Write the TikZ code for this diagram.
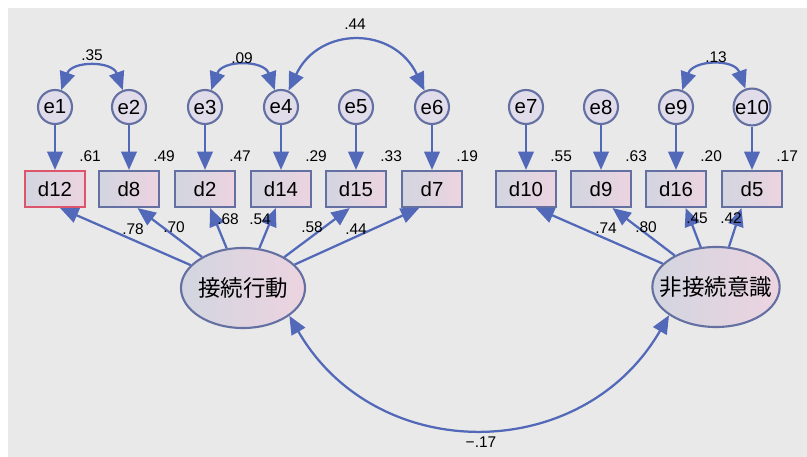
\documentclass[tikz,border=0pt]{standalone}
\usepackage{fontspec}
\setmainfont{Liberation Sans}
\newfontfamily\jafont{Noto Sans CJK JP}
\usepackage{tikz}
\usetikzlibrary{arrows.meta}
\usetikzlibrary{shapes.geometric}
\usetikzlibrary{calc}

\definecolor{paper}{RGB}{233,233,233}
\definecolor{lineblue}{RGB}{82,104,184}
\definecolor{nodeedge}{RGB}{100,112,162}
\definecolor{boxred}{RGB}{222,84,106}
\definecolor{circfill}{RGB}{224,220,234}
\definecolor{shadeleft}{RGB}{210,213,224}
\definecolor{shaderight}{RGB}{236,212,224}

\tikzset{
	errnode/.style={circle, draw=nodeedge, line width=1.5pt, fill=circfill,
		minimum size=0.85cm, inner sep=0pt, font=\fontsize{14.5}{16}\selectfont},
	obsbox/.style={rectangle, draw=nodeedge, line width=1.5pt,
		left color=shadeleft, right color=shaderight,
		minimum width=1.5cm, minimum height=0.9cm, inner sep=0pt,
		font=\fontsize{14.5}{16}\selectfont},
	latent/.style={ellipse, draw=nodeedge, line width=1.5pt,
		left color=shadeleft, right color=shaderight,
		minimum width=3.1cm, minimum height=2cm, inner xsep=-8pt, inner ysep=0pt,
		font=\jafont\fontsize{16}{18}\selectfont},
	regarrow/.style={lineblue, line width=1.6pt, -{Triangle[length=13pt,width=11pt]}},
	covarrow/.style={lineblue, line width=1.6pt,
		{Triangle[length=13pt,width=11pt]}-{Triangle[length=13pt,width=11pt]}},
	coef/.style={font=\fontsize{11}{13}\selectfont, inner sep=0pt}
}

\begin{document}
\begin{tikzpicture}[x=0.025cm, y=0.025cm]

\newcommand{\erow}{-107}
\newcommand{\drow}{-189}

	\useasboundingbox (0,0) rectangle (807,-457);
	\fill[paper] (8,-8) rectangle (807,-457);

	% error terms
	\node[errnode] (e1) at (55,\erow) {e1};
	\node[errnode] (e2) at (129,\erow) {e2};
	\node[errnode] (e3) at (205,\erow) {e3};
	\node[errnode] (e4) at (281,\erow) {e4};
	\node[errnode] (e5) at (356,\erow) {e5};
	\node[errnode] (e6) at (432,\erow) {e6};
	\node[errnode] (e7) at (526,\erow) {e7};
	\node[errnode] (e8) at (601,\erow) {e8};
	\node[errnode] (e9) at (676,\erow) {e9};
	\node[errnode] (e10) at (752,\erow) {e10};

	% observed items
	\node[obsbox, draw=boxred] (d12) at (55,\drow) {d12};
	\node[obsbox] (d8) at (129,\drow) {d8};
	\node[obsbox] (d2) at (205,\drow) {d2};
	\node[obsbox] (d14) at (281,\drow) {d14};
	\node[obsbox] (d15) at (356,\drow) {d15};
	\node[obsbox] (d7) at (432,\drow) {d7};
	\node[obsbox] (d10) at (526,\drow) {d10};
	\node[obsbox] (d9) at (601,\drow) {d9};
	\node[obsbox] (d16) at (676,\drow) {d16};
	\node[obsbox] (d5) at (752,\drow) {d5};

	% factors
	\node[latent] (act) at (243,-288) {接続行動};
	\node[latent] (cog) at (716,-287) {非接続意識};

	% error paths
	\draw[regarrow] (e1) -- (d12);
	\draw[regarrow] (e2) -- (d8);
	\draw[regarrow] (e3) -- (d2);
	\draw[regarrow] (e4) -- (d14);
	\draw[regarrow] (e5) -- (d15);
	\draw[regarrow] (e6) -- (d7);
	\draw[regarrow] (e7) -- (d10);
	\draw[regarrow] (e8) -- (d9);
	\draw[regarrow] (e9) -- (d16);
	\draw[regarrow] (e10) -- (d5);

	% loadings
	\draw[regarrow] (act) -- (d12.-75);
	\draw[regarrow] (act) -- (d8.-66);
	\draw[regarrow] (act) -- (d2.-75);
	\draw[regarrow] (act) -- (d14.-105);
	\draw[regarrow] (act) -- (d15.-108);
	\draw[regarrow] (act) -- (d7.-124);
	\draw[regarrow] (cog) -- (d10.-63);
	\draw[regarrow] (cog) -- (d9.-59);
	\draw[regarrow] (cog) -- (d16.-63);
	\draw[regarrow] (cog) -- (d5.-119);

	% covariances
	\draw[covarrow] (e1) to[out=70, in=110, looseness=1.3] (e2);
	\draw[covarrow] (e3) to[out=70, in=110, looseness=1.3] (e4);
	\draw[covarrow] (e4) to[out=65, in=115, looseness=1.35] (e6);
	\draw[covarrow] (e9) to[out=70, in=110, looseness=1.3] (e10);
	\draw[covarrow] (act.-31) to[out=-60, in=-120, looseness=1.17] (cog.-149);

	% squared multiple correlations
	\node[coef, anchor=south west] (v12) at ($(d12.north east)+(-7,8)$) {.61};
	\node[coef, anchor=south west] (v8) at ($(d8.north east)+(-7,8)$) {.49};
	\node[coef, anchor=south west] (v2) at ($(d2.north east)+(-7,8)$) {.47};
	\node[coef, anchor=south west] (v14) at ($(d14.north east)+(-7,8)$) {.29};
	\node[coef, anchor=south west] (v15) at ($(d15.north east)+(-7,8)$) {.33};
	\node[coef, anchor=south west] (v7) at ($(d7.north east)+(-7,8)$) {.19};
	\node[coef, anchor=south west] (v10) at ($(d10.north east)+(-7,8)$) {.55};
	\node[coef, anchor=south west] (v9) at ($(d9.north east)+(-7,8)$) {.63};
	\node[coef, anchor=south west] (v16) at ($(d16.north east)+(-7,8)$) {.20};
	\node[coef, anchor=south west] (v5) at ($(d5.north east)+(-7,8)$) {.17};

	% loading values
	\node[coef] (l12) at (133,-229) {.78};
	\node[coef] (l8) at (174,-227) {.70};
	\node[coef] (l2) at (228,-219) {.68};
	\node[coef] (l14) at (260,-219) {.54};
	\node[coef] (l15) at (312,-227) {.58};
	\node[coef] (l7) at (356,-229) {.44};
	\node[coef] (l10) at (606,-228) {.74};
	\node[coef] (l9) at (646,-227) {.80};
	\node[coef] (l16) at (697,-218) {.45};
	\node[coef] (l5) at (731,-218) {.42};

	% covariance values
	\node[coef] (c12) at (92,-55) {.35};
	\node[coef] (c34) at (242,-58) {.09};
	\node[coef] (c46) at (355,-24) {.44};
	\node[coef] (c910) at (716,-57) {.13};
	\node[coef] (cf) at (481,-442) {−.17};
  \end{tikzpicture}
\end{document}
